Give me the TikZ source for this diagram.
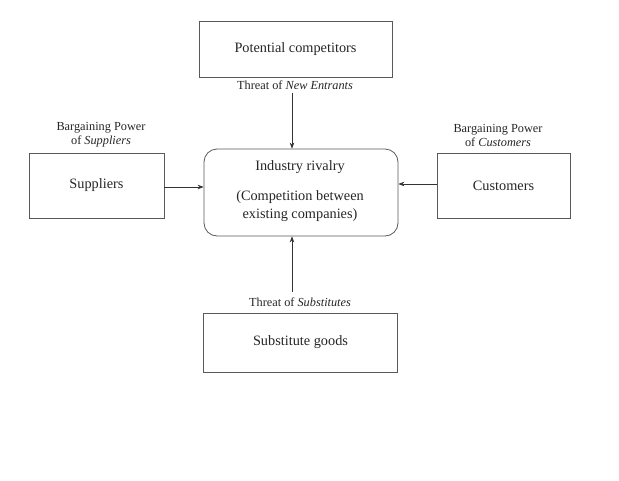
\documentclass[tikz,border=0pt]{standalone}
\usepackage{fontspec}
\setmainfont{Liberation Serif}
\usetikzlibrary{arrows.meta}
\begin{document}
\begin{tikzpicture}[x=1pt,y=-1pt,
  boxx/.style={draw=black!65, line width=0.8pt, rectangle, inner sep=0pt, font=\fontsize{14.3}{18}\selectfont, text=black!85},
  lbl/.style={inner sep=0pt, font=\fontsize{12.3}{14}\selectfont, text=black!85, align=center},
  arr/.style={draw=black!80, line width=0.7pt, -{Stealth[length=6pt,width=4.5pt]}}]
\useasboundingbox[fill=white] (0,0) rectangle (619,480);
% boxes
\node[boxx, minimum width=193pt, minimum height=56pt] (pot) at (295.5,49) {Potential competitors};
\node[boxx, minimum width=194pt, minimum height=87pt, rounded corners=13pt] (riv) at (301,192.5) {};
\node[inner sep=0pt, font=\fontsize{14.3}{18}\selectfont, text=black!85, align=center] (rivt) at (300,191)
  {Industry rivalry\\[12pt](Competition between\\existing companies)};
\node[boxx, minimum width=135pt, minimum height=65pt] (sup) at (96.5,185.5) {Suppliers};
\node[boxx, minimum width=133pt, minimum height=65pt] (cus) at (503.5,185.5) {Customers};
\node[boxx, minimum width=194pt, minimum height=59pt] (sub) at (300.5,342.5) {Substitute goods};
% labels
\node[lbl] (ne) at (295,85.5) {Threat of \textit{New Entrants}};
\node[lbl] (bps) at (101,135) {Bargaining Power\\of \textit{Suppliers}};
\node[lbl] (bpc) at (498,135) {Bargaining Power\\of \textit{Customers}};
\node[lbl] (ts) at (300,302) {Threat of \textit{Substitutes}};
% arrow guides
\coordinate (ax) at (292,0);
\coordinate (ys) at (0,187);
\coordinate (yc) at (0,184);
\coordinate (tsy) at (0,292);
\coordinate (ney) at (0,93);
% arrows
\draw[arr] (ney -| ax) -- (riv.north -| ax);
\draw[arr] (tsy -| ax) -- (riv.south -| ax);
\draw[arr] (sup.east |- ys) -- (riv.west |- ys);
\draw[arr] (cus.west |- yc) -- (riv.east |- yc);
\end{tikzpicture}
\end{document}
